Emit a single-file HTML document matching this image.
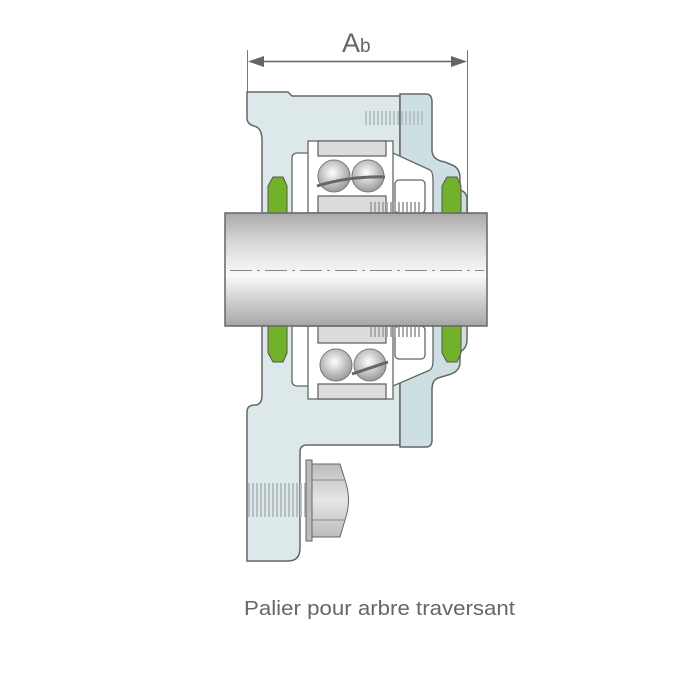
<!DOCTYPE html>
<html><head><style>body{margin:0;background:#fff}svg{display:block}</style></head><body>
<svg width="700" height="700" viewBox="0 0 700 700" xmlns="http://www.w3.org/2000/svg">
<defs>
<linearGradient id="sh" x1="0" y1="0" x2="0" y2="1">
<stop offset="0" stop-color="#a9a9a9"/><stop offset="0.25" stop-color="#d6d6d6"/><stop offset="0.55" stop-color="#fafafa"/><stop offset="1" stop-color="#a6a6a6"/></linearGradient>
<radialGradient id="ball" cx="0.45" cy="0.4" r="0.6"><stop offset="0" stop-color="#fff"/><stop offset="1" stop-color="#9a9a9a"/></radialGradient>
<linearGradient id="hx" x1="0" y1="0" x2="0" y2="1"><stop offset="0" stop-color="#bcbcbc"/><stop offset="0.5" stop-color="#e6e6e6"/><stop offset="1" stop-color="#bcbcbc"/></linearGradient>
</defs>
<g stroke="#777" stroke-width="1" fill="none">
<line x1="247.5" y1="50" x2="247.5" y2="92"/><line x1="467.5" y1="50" x2="467.5" y2="213"/>
<line x1="255" y1="61.5" x2="460" y2="61.5" stroke="#666" stroke-width="1.5"/></g>
<polygon points="248,61.5 264,56 264,67" fill="#666"/><polygon points="467,61.5 451,56 451,67" fill="#666"/>
<text x="342" y="52" font-family="Liberation Sans, sans-serif" font-size="27" fill="#666">A<tspan font-size="19">b</tspan></text>
<path d="M247,92 H288 L292,96 H400 V445 H307 Q300,445 300,452 V548 Q300,561 288,561 H247 V412 Q247,405 255,405 Q262,405 262,395 V140 Q262,128 254,126 Q247,124 247,118 Z" fill="#dde8ea" stroke="#666" stroke-width="1.5"/>
<path d="M400,94 H426 Q432,94 432,102 V150 Q432,160 445,162 L452,165 Q460,168 460,178 L460,190 Q467,192 467,200 V340 Q467,348 460,352 V362 Q460,372 448,375 L438,378 Q432,380 432,390 V440 Q432,447 426,447 H400 Z" fill="#cddfe2" stroke="#666" stroke-width="1.5"/>
<g fill="#fff" stroke="#666" stroke-width="1.3">
<path d="M292,213 V158 Q292,153 298,153 H393 L430,170 Q433,172 433,180 V213 Z"/>
<path d="M292,326 V381 Q292,386 298,386 H393 L430,370 Q433,368 433,360 V326 Z"/>
<rect x="308" y="141" width="85" height="72"/><rect x="308" y="326" width="85" height="73"/>
<rect x="318" y="141" width="68" height="15" fill="#dcdcdc"/><rect x="318" y="196" width="68" height="17" fill="#dcdcdc"/>
<rect x="318" y="384" width="68" height="15" fill="#dcdcdc"/><rect x="318" y="326" width="68" height="17" fill="#dcdcdc"/>
<rect x="395" y="180" width="30" height="33" rx="4"/><rect x="395" y="326" width="30" height="33" rx="4"/>
</g>
<g stroke="#aaa" stroke-width="1.2">
<line x1="365" y1="118" x2="425" y2="118" stroke-width="14" stroke="#b8c4c6" stroke-dasharray="2,2"/>
<line x1="370" y1="207" x2="420" y2="207" stroke-width="10" stroke="#aaa" stroke-dasharray="2,2"/>
<line x1="370" y1="332" x2="420" y2="332" stroke-width="10" stroke="#aaa" stroke-dasharray="2,2"/>
<line x1="248" y1="500" x2="306" y2="500" stroke-width="34" stroke="#b5bfc0" stroke-dasharray="2,2"/>
</g>
<g stroke="#777" stroke-width="1" fill="url(#ball)">
<circle cx="334" cy="176" r="16"/><circle cx="368" cy="176" r="16"/>
<circle cx="336" cy="365" r="16"/><circle cx="370" cy="365" r="16"/></g>
<path d="M317,186 Q350,176 385,177" stroke="#666" stroke-width="3" fill="none"/>
<path d="M352,374 Q370,368 388,362" stroke="#666" stroke-width="3" fill="none"/>
<g fill="#72b22a" stroke="#555" stroke-width="1">
<path d="M268,213 V186 L273,177 H283 L287,186 V213 Z"/><path d="M442,213 V186 L447,177 H457 L461,186 V213 Z"/>
<path d="M268,326 V353 L273,362 H283 L287,353 V326 Z"/><path d="M442,326 V353 L447,362 H457 L461,353 V326 Z"/></g>
<rect x="225" y="213" width="262" height="113" fill="url(#sh)" stroke="#666" stroke-width="1.5"/>
<line x1="230" y1="270.5" x2="484" y2="270.5" stroke="#888" stroke-width="1" stroke-dasharray="22,5,3,5"/>
<rect x="306" y="460" width="6" height="81" fill="#bbb" stroke="#666"/>
<path d="M312,464 H340 L345,480 Q352,500 345,520 L340,537 H312 Z" fill="url(#hx)" stroke="#666"/>
<line x1="312" y1="480" x2="345" y2="480" stroke="#888"/><line x1="312" y1="520" x2="345" y2="520" stroke="#888"/>
<text x="244" y="615" textLength="271" lengthAdjust="spacingAndGlyphs" font-family="Liberation Sans, sans-serif" font-size="20" fill="#666">Palier pour arbre traversant</text>
</svg>
</body></html>
